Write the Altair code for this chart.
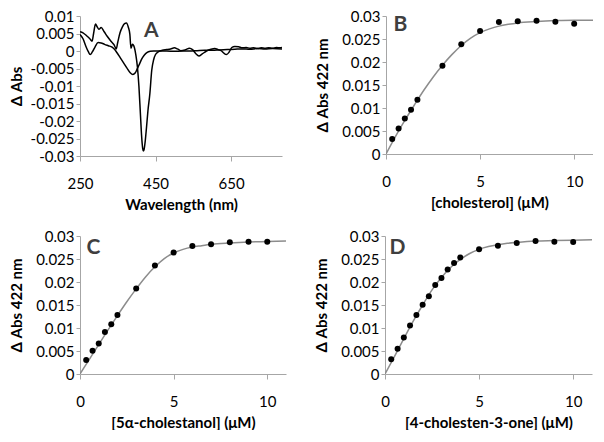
import altair as alt
import pandas as pd

# ---------------- Panel A: difference spectra ----------------
wl_1 = [250, 258, 268, 276, 282, 286, 291, 296, 300, 306, 314, 322, 332, 340, 346, 350, 356, 362, 368,
        373, 378, 382, 385, 389, 394, 398, 402, 406, 410, 413, 416, 418, 420, 423, 426, 430, 435, 440,
        445, 450, 458, 468, 480, 490, 500, 508, 517, 528, 540, 548, 557, 565, 573, 585, 597, 607, 616,
        625, 632, 638, 645, 652, 660, 670, 680, 690, 700, 710, 720, 730, 740, 750, 760, 770, 780, 785]
abs_1 = [0.0055, 0.0052, 0.0043, 0.0035, 0.0028, 0.0050, 0.0077, 0.0068, 0.0062, 0.0067, 0.0055,
         0.0042, 0.0028, 0.0018, 0.0006, 0.0025, 0.0052, 0.0068, 0.0078, 0.0080, 0.0068, 0.0048,
         0.0008, 0.0019, 0.0010, -0.0012, -0.0045, -0.0100, -0.0180, -0.0240, -0.0278, -0.0286,
         -0.0280, -0.0255, -0.0220, -0.0170, -0.0122, -0.0055, -0.0025, -0.0010, -0.0002, 0.0002,
         0.0004, 0.0006, 0.0009, 0.0006, 0.0001, 0.0003, 0.0008, 0.0004, -0.0008, -0.0014, -0.0009,
         0.0000, 0.0005, 0.0007, 0.0004, 0.0000, -0.0007, -0.0010, -0.0003, 0.0010, 0.0013, 0.0012,
         0.0009, 0.0010, 0.0008, 0.0009, 0.0007, 0.0009, 0.0008, 0.0009, 0.0008, 0.0010, 0.0009, 0.0010]
wl_2 = [250, 258, 265, 272, 277, 283, 290, 298, 306, 315, 325, 335, 342, 348, 356, 365, 374, 383, 390,
        396, 402, 408, 414, 420, 428, 436, 445, 460, 480, 500, 520, 540, 560, 580, 600, 620, 640, 660,
        680, 700, 720, 740, 760, 785]
abs_2 = [0.0047, 0.0035, 0.0015, -0.0002, -0.0010, -0.0002, 0.0012, 0.0024, 0.0023, 0.0019, 0.0015,
         0.0011, 0.0004, -0.0005, -0.0018, -0.0033, -0.0048, -0.0062, -0.0067, -0.0063, -0.0050,
         -0.0036, -0.0022, -0.0012, -0.0004, -0.0001, 0.0000, 0.0000, 0.0000, -0.0001, 0.0000, 0.0000,
         0.0001, 0.0002, 0.0002, 0.0003, 0.0004, 0.0005, 0.0006, 0.0005, 0.0007, 0.0006, 0.0007, 0.0006]
a_x_ticks = [250, 450, 650]
a_y_ticks = [-0.03, -0.025, -0.02, -0.015, -0.01, -0.005, 0, 0.005, 0.01]

# ---------------- Titration panels ----------------
conc_b = [0.33, 0.67, 1.0, 1.33, 1.67, 3, 4, 5, 6, 7, 8, 9, 10]
dabs_b = [0.00325, 0.00557, 0.00774, 0.00961, 0.01178, 0.01916, 0.02386, 0.02675, 0.0287, 0.02884,
          0.02899, 0.02877, 0.02834]
conc_c = [0.33, 0.67, 1.0, 1.33, 1.67, 2.0, 3, 4, 5, 6, 7, 8, 9, 10]
dabs_c = [0.00304, 0.00506, 0.00665, 0.00911, 0.01084, 0.0128, 0.01858, 0.02357, 0.02639, 0.02783,
          0.0282, 0.02863, 0.02877, 0.02877]
conc_d = [0.33, 0.67, 1.0, 1.33, 1.67, 2.0, 2.33, 2.67, 3.0, 3.33, 3.67, 4.0, 5, 6, 7, 8, 9, 10]
dabs_d = [0.00318, 0.00549, 0.00795, 0.01055, 0.0128, 0.01504, 0.01692, 0.01937, 0.02089, 0.0227,
          0.02415, 0.0253, 0.02711, 0.0279, 0.02848, 0.02892, 0.02877, 0.0287]

fit_x = [0, 0.5, 1, 1.5, 2, 2.5, 3, 3.5, 4, 4.5, 5, 5.5, 6, 6.5, 7, 8, 9, 10, 11]
fit_b = [0, 0.0038, 0.0073, 0.0106, 0.0138, 0.0167, 0.0193, 0.0216, 0.0236, 0.0252, 0.0264, 0.0272,
         0.0278, 0.0282, 0.0285, 0.0288, 0.0290, 0.0291, 0.0291]
fit_c = [0, 0.0032, 0.0064, 0.0096, 0.0127, 0.0157, 0.0185, 0.0211, 0.0233, 0.0251, 0.0263, 0.0271,
         0.0276, 0.0279, 0.0282, 0.0285, 0.0287, 0.0288, 0.0289]
fit_d = [0, 0.0038, 0.0077, 0.0115, 0.0150, 0.0183, 0.0210, 0.0232, 0.0249, 0.0262, 0.0271, 0.0277,
         0.0281, 0.0284, 0.0286, 0.0289, 0.0290, 0.0291, 0.0292]
t_x_ticks = [0, 5, 10]
t_y_ticks = [0, 0.005, 0.01, 0.015, 0.02, 0.025, 0.03]

letters = ["A", "B", "C", "D"]
letter_x = [439, 0.77, 0.72, 0.67]
letter_y = [0.0041, 0.02675, 0.026, 0.02616]

x_titles = ["Wavelength (nm)", "[cholesterol] (μM)", "[5α-cholestanol] (μM)", "[4-cholesten-3-one] (μM)"]
y_titles = ["Δ Abs", "Δ Abs 422 nm"]

LABEL_EXPR = "toString(round(datum.value*1000)/1000)"


def enc_x(domain, values, title):
    return alt.X("x:Q", scale=alt.Scale(domain=domain, nice=False, zero=False),
                 axis=alt.Axis(values=values, title=title, labelOverlap=False,
                               labelFlush=False, labelBound=False))


def enc_y(domain, values, title, tx):
    return alt.Y("y:Q", scale=alt.Scale(domain=domain, nice=False, zero=False),
                 axis=alt.Axis(values=values, title=title, labelExpr=LABEL_EXPR, labelOverlap=False,
                               labelFlush=False, labelBound=False, titleX=tx, titleBaseline="middle"))


def letter_layer(i, X, Y):
    df = pd.DataFrame({"x": [letter_x[i]], "y": [letter_y[i]], "t": [letters[i]]})
    return alt.Chart(df).mark_text(
        font="Lato", fontSize=21, fontWeight="bold", color="#3f3f3f",
        align="center", baseline="alphabetic"
    ).encode(x=X, y=Y, text="t:N")


# Panel A
spec = pd.concat([
    pd.DataFrame({"x": wl_1, "y": abs_1, "s": "1"}),
    pd.DataFrame({"x": wl_2, "y": abs_2, "s": "2"}),
])
XA = enc_x([250, 785], a_x_ticks, x_titles[0])
YA = enc_y([-0.03, 0.01], a_y_ticks, y_titles[0], -64)
panel_a = alt.layer(
    alt.Chart(spec).mark_line(color="black", strokeWidth=1.5, interpolate="monotone", clip=True).encode(
        x=XA, y=YA, detail="s:N"),
    letter_layer(0, XA, YA),
).properties(width=202, height=140)


def titration(i, xs, ys, fy, w, h, tx):
    pts = pd.DataFrame({"x": xs, "y": ys})
    fit = pd.DataFrame({"x": fit_x, "y": fy})
    X = enc_x([0, 11], t_x_ticks, x_titles[i])
    Y = enc_y([0, 0.03], t_y_ticks, y_titles[1], tx)
    line = alt.Chart(fit).mark_line(color="#8c8c8c", strokeWidth=1.5, interpolate="monotone",
                                    clip=True).encode(x=X, y=Y)
    dots = alt.Chart(pts).mark_circle(color="black", size=36, opacity=1).encode(x=X, y=Y)
    return alt.layer(line, dots, letter_layer(i, X, Y)).properties(width=w, height=h)


panel_b = titration(1, conc_b, dabs_b, fit_b, 207, 138, -64)
panel_c = titration(2, conc_c, dabs_c, fit_c, 206, 138, -64)
panel_d = titration(3, conc_d, dabs_d, fit_d, 207, 138, -64)

chart = alt.vconcat(
    alt.hconcat(panel_a, panel_b, spacing=33),
    alt.hconcat(panel_c, panel_d, spacing=28),
    spacing=17,
).properties(padding={"left": 1, "top": 1, "right": 0, "bottom": 0}).configure_axis(
    domainColor="#a6a6a6", tickColor="#a6a6a6", grid=False,
    labelFont="Lato", labelFontSize=15, labelColor="black",
    titleFont="Lato", titleFontSize=15, titleFontWeight="bold", titleColor="black",
).configure_axisX(tickSize=5, labelPadding=15, titlePadding=6).configure_axisY(
    tickSize=4, labelPadding=2
).configure_view(stroke=None)

chart.save("out.html", embed_options={"renderer": "svg", "actions": False})
